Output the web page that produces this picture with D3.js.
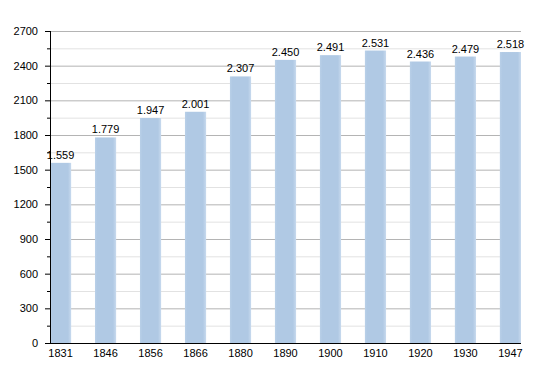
<!DOCTYPE html>
<html>
<head>
<meta charset="utf-8">
<script src="https://cdn.jsdelivr.net/npm/d3@7"></script>
<style>
  body { margin: 0; background: #fff; }
  svg { display: block; font-family: 'Liberation Sans', Arial, sans-serif; }
</style>
</head>
<body>
<svg id="chart" width="550" height="373"></svg>
<script>
const years = ['1831', '1846', '1856', '1866', '1880', '1890', '1900', '1910', '1920', '1930', '1947']
const population = [1559, 1779, 1947, 2001, 2307, 2450, 2491, 2531, 2436, 2479, 2518]
const majorTicks = [0, 300, 600, 900, 1200, 1500, 1800, 2100, 2400, 2700]
const minorTicks = [150, 450, 750, 1050, 1350, 1650, 1950, 2250, 2550]

const svg = d3.select('#chart')
const margin = { top: 31, right: 29, bottom: 30, left: 50 }
const width = 550 - margin.left - margin.right
const height = 373 - margin.top - margin.bottom

// soft edged bar fill
const grad = svg.append('defs').append('linearGradient')
  .attr('id', 'barfill').attr('x1', '0').attr('x2', '1').attr('y1', '0').attr('y2', '0')
grad.append('stop').attr('offset', '0%').attr('stop-color', '#b9d0e8')
grad.append('stop').attr('offset', '12%').attr('stop-color', '#b0c9e4')
grad.append('stop').attr('offset', '85%').attr('stop-color', '#b0c9e4')
grad.append('stop').attr('offset', '100%').attr('stop-color', '#c8daee')

const g = svg.append('g').attr('transform', 'translate(' + margin.left + ',' + margin.top + ')')

const x = d3.scaleBand()
  .domain(years)
  .range([0, width])
  .paddingInner(0.53)
  .paddingOuter(0)

const y = d3.scaleLinear()
  .domain([0, 2700])
  .range([height, 0])

// gridlines
g.selectAll('.minor-grid')
  .data(minorTicks)
  .enter().append('line')
    .attr('x1', 0).attr('x2', width)
    .attr('y1', d => y(d) + 0.5).attr('y2', d => y(d) + 0.5)
    .attr('stroke', '#e2e2e2')

g.selectAll('.major-grid')
  .data(majorTicks.filter(d => d > 0))
  .enter().append('line')
    .attr('x1', 0).attr('x2', width)
    .attr('y1', d => y(d) + 0.5).attr('y2', d => y(d) + 0.5)
    .attr('stroke', '#b4b4b4')

// bars
g.selectAll('.bar')
  .data(population)
  .enter().append('rect')
    .attr('x', (d, i) => x(years[i]))
    .attr('y', d => y(d))
    .attr('width', x.bandwidth())
    .attr('height', d => height - y(d))
    .attr('fill', 'url(#barfill)')

const fmt = d => d3.format(',')(d).replace(',', '.')

g.selectAll('.val')
  .data(population)
  .enter().append('text')
    .attr('x', (d, i) => x(years[i]) + x.bandwidth() / 2)
    .attr('y', d => y(d) - 4)
    .attr('text-anchor', 'middle')
    .attr('font-size', 11)
    .attr('fill', '#000')
    .text(fmt)

// y axis
const yAxis = g.append('g')
  .call(d3.axisLeft(y).tickValues(majorTicks).tickSize(5).tickPadding(7).tickFormat(d3.format('d')))
yAxis.select('.domain').attr('stroke', '#000').attr('d', 'M0.5,0V' + height)
yAxis.selectAll('text').attr('font-size', 11).attr('fill', '#000').attr('font-family', 'Liberation Sans, Arial, sans-serif')

g.append('g')
  .call(d3.axisLeft(y).tickValues(minorTicks).tickSize(3).tickFormat(''))
  .select('.domain').remove()

// x axis
const xAxis = g.append('g')
  .attr('transform', 'translate(0,' + height + ')')
  .call(d3.axisBottom(x).tickSize(0).tickPadding(6))
xAxis.select('.domain').attr('stroke', '#000').attr('d', 'M-3,0.5H' + width)
xAxis.selectAll('text').attr('font-size', 11).attr('fill', '#000').attr('font-family', 'Liberation Sans, Arial, sans-serif')
</script>
</body>
</html>
